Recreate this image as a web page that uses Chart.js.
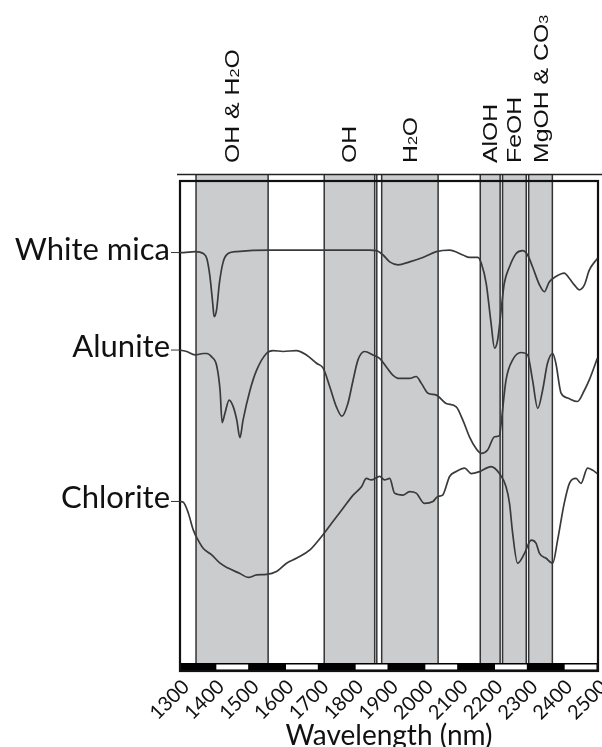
<!DOCTYPE html>
<html>
<head>
<meta charset="utf-8">
<script src="https://cdn.jsdelivr.net/npm/chart.js@4.4.1/dist/chart.umd.min.js"></script>
<style>
  html, body { margin: 0; padding: 0; background: #fff; }
  #wrap { width: 602px; height: 747px; position: relative; }
</style>
</head>
<body>
<div id="wrap"><canvas id="spectra" width="602" height="747"></canvas></div>
<script>
  // ---------- Data ----------
  const tickValues = [1300, 1400, 1500, 1600, 1700, 1800, 1900, 2000, 2100, 2200, 2300, 2400, 2500];
  const tickLabels = ["1300", "1400", "1500", "1600", "1700", "1800", "1900", "2000", "2100", "2200", "2300", "2400", "2500"];

  // absorption feature bands (nm); "_n" = subscript
  const bandNames = ["OH & H_2O", "OH", "H_2O", "AlOH", "FeOH", "MgOH & CO_3"];
  const bandStart = [1346, 1714, 1879, 2162, 2226, 2301];
  const bandEnd   = [1553, 1859, 2041, 2219, 2294, 2369];
  const extraLines = [1865];

  const seriesNames = ["White mica", "Alunite", "Chlorite"];

  const micaWl  = [1300,1310,1343,1367,1377,1386,1394,1398,1405,1413,1424,1438,1463,1558,1701,1844,1864,1883,1902,1926,1959,1997,2036,2074,2112,2131,2155,2165,2179,2193,2203,2212,2222,2231,2246,2265,2284,2298,2312,2332,2346,2360,2379,2403,2418,2432,2446,2461,2475,2498];
  const micaVal = [85.4,85.4,85.6,85.2,84.2,80.5,75.0,72.3,73.7,79.1,83.5,85.2,85.6,85.9,85.9,85.9,85.8,84.9,83.5,82.9,83.5,84.4,85.6,85.9,84.9,84.4,84.4,83.2,79.1,71.0,65.9,67.6,73.7,79.1,82.5,85.2,85.8,84.9,82.5,78.8,77.4,79.4,80.5,81.2,80.1,78.8,77.8,78.8,81.8,84.2];

  const aluniteWl  = [1300,1319,1343,1367,1377,1391,1405,1415,1421,1429,1441,1453,1463,1472,1481,1501,1520,1548,1567,1596,1634,1663,1692,1711,1730,1749,1765,1782,1797,1811,1830,1854,1873,1892,1911,1930,1959,1978,1993,2012,2036,2064,2093,2112,2131,2150,2165,2183,2203,2217,2222,2236,2255,2279,2298,2312,2327,2341,2355,2370,2379,2394,2413,2441,2461,2475,2498];
  const aluniteVal = [65.5,65.2,64.5,64.8,64.8,64.1,62.4,57.3,50.7,52.6,55.3,53.9,51.2,47.6,51.2,57.3,61.4,64.8,65.4,65.2,65.4,64.5,62.8,61.8,58.0,53.9,52.0,54.6,59.4,63.5,65.2,64.5,63.8,62.1,60.4,59.7,59.7,60.1,58.7,56.7,56.3,54.6,53.9,51.2,47.8,45.4,44.4,45.1,47.8,48.0,50.6,59.4,63.5,65.0,64.5,59.4,53.6,57.3,62.8,64.8,62.8,56.7,55.7,55.0,57.3,59.4,63.8];

  const chloriteWl  = [1300,1310,1324,1338,1352,1367,1391,1415,1438,1472,1496,1520,1548,1577,1606,1634,1673,1706,1739,1768,1797,1821,1835,1849,1873,1887,1902,1916,1940,1959,1978,2002,2026,2040,2054,2074,2093,2117,2136,2160,2193,2217,2236,2246,2255,2269,2289,2308,2322,2332,2351,2370,2384,2403,2418,2437,2451,2470,2484,2498];
  const chloriteVal = [34.6,34.4,32.2,28.8,26.7,25.0,23.7,22.0,21.0,19.9,19.1,19.6,19.7,20.3,22.0,23.0,24.7,27.4,30.5,33.2,35.9,37.6,39.3,39.0,39.7,39.0,39.3,36.3,35.9,36.6,36.3,34.2,34.6,35.6,35.9,39.7,40.7,41.4,40.3,40.7,41.7,40.3,37.6,34.2,28.1,22.0,24.0,26.7,26.1,24.0,23.0,22.0,26.7,34.2,38.3,39.3,38.3,41.4,41.0,40.3];

  // ---------- Utils ----------
  const pairs = (xs, ys) => xs.map((x, i) => ({ x: x, y: ys[i] }));

  function drawRotLabel(ctx, str, cx, y0) {
    ctx.save();
    ctx.translate(cx, y0);
    ctx.rotate(-Math.PI / 2);
    ctx.scale(1.24, 1);
    ctx.textAlign = "left";
    ctx.textBaseline = "alphabetic";
    let pos = 0;
    for (const part of str.split(/(_\d)/)) {
      if (!part) continue;
      const sub = part[0] === "_";
      const txt = sub ? part.slice(1) : part;
      ctx.font = sub ? '13px "Liberation Sans"' : '20px "Liberation Sans"';
      ctx.fillText(txt, pos, 7);
      pos += ctx.measureText(txt).width;
    }
    ctx.restore();
  }

  // ---------- Decorations ----------
  const spectraDecor = {
    id: "spectraDecor",
    beforeDatasetsDraw(chart) {
      const { ctx, chartArea: a, scales: { x } } = chart;
      const top = a.top - 6.5;
      const barTop = a.bottom - 8;
      ctx.save();

      // grey bands
      ctx.fillStyle = "#cbcccd";
      for (let i = 0; i < bandStart.length; i++) {
        const x0 = x.getPixelForValue(bandStart[i]);
        const x1 = x.getPixelForValue(bandEnd[i]);
        ctx.fillRect(x0, top, x1 - x0, barTop - top);
      }
      ctx.strokeStyle = "#333";
      ctx.lineWidth = 1.5;
      const vx = [];
      bandStart.forEach((v, i) => { vx.push(v, bandEnd[i]); });
      extraLines.forEach(v => vx.push(v));
      for (const v of vx) {
        const px = x.getPixelForValue(v);
        ctx.beginPath();
        ctx.moveTo(px, top);
        ctx.lineTo(px, barTop);
        ctx.stroke();
      }

      // outer top line
      ctx.strokeStyle = "#222";
      ctx.lineWidth = 1.6;
      ctx.beginPath();
      ctx.moveTo(a.left - 3, top);
      ctx.lineTo(chart.width, top);
      ctx.stroke();

      // wavelength scale bar
      ctx.fillStyle = "#000";
      ctx.fillRect(a.left, barTop, a.right - a.left, a.bottom - barTop);
      ctx.fillStyle = "#fff";
      for (let i = 1; i < tickValues.length - 1; i += 2) {
        const x0 = x.getPixelForValue(tickValues[i]);
        const x1 = x.getPixelForValue(tickValues[i + 1]);
        ctx.fillRect(x0 + 1.5, barTop + 1.5, x1 - x0 - 3, a.bottom - barTop - 3);
      }

      // frame
      ctx.strokeStyle = "#111";
      ctx.lineWidth = 2.2;
      ctx.strokeRect(a.left, a.top, a.right - a.left, a.bottom - a.top);
      ctx.restore();
    },
    afterDraw(chart) {
      const { ctx, chartArea: a, scales: { x, y } } = chart;
      ctx.save();
      ctx.fillStyle = "#111";

      // band names
      for (let i = 0; i < bandNames.length; i++) {
        const cx = (x.getPixelForValue(bandStart[i]) + x.getPixelForValue(bandEnd[i])) / 2;
        drawRotLabel(ctx, bandNames[i], cx, a.top - 18);
      }

      // series names with leader ticks
      const firsts = [micaVal[0], aluniteVal[0], chloriteVal[0]];
      ctx.font = '31px "Lato"';
      ctx.textAlign = "right";
      ctx.textBaseline = "middle";
      ctx.strokeStyle = "#333";
      ctx.lineWidth = 1;
      firsts.forEach((v, i) => {
        const py = y.getPixelForValue(v);
        ctx.fillText(seriesNames[i], a.left - 10, py - 3);
        ctx.beginPath();
        ctx.moveTo(a.left - 9, py);
        ctx.lineTo(a.left, py);
        ctx.stroke();
      });

      // axis title
      ctx.font = '28px "Lato"';
      ctx.textAlign = "center";
      ctx.textBaseline = "alphabetic";
      ctx.fillText("Wavelength (nm)", (a.left + a.right) / 2, 745);
      ctx.restore();
    }
  };

  // ---------- Chart ----------
  const lineStyle = {
    borderColor: "#3a3a3a",
    borderWidth: 1.7,
    pointRadius: 0,
    fill: false,
    cubicInterpolationMode: "monotone"
  };

  new Chart(document.getElementById("spectra").getContext("2d"), {
    type: "line",
    data: {
      datasets: [
        Object.assign({ label: seriesNames[0], data: pairs(micaWl, micaVal) }, lineStyle),
        Object.assign({ label: seriesNames[1], data: pairs(aluniteWl, aluniteVal) }, lineStyle),
        Object.assign({ label: seriesNames[2], data: pairs(chloriteWl, chloriteVal) }, lineStyle)
      ]
    },
    options: {
      responsive: false,
      animation: false,
      devicePixelRatio: 1,
      layout: { padding: { left: 180, right: 4, top: 181, bottom: 0 } },
      plugins: { legend: { display: false }, tooltip: { enabled: false } },
      scales: {
        x: {
          type: "linear",
          min: 1300,
          max: 2500,
          afterBuildTicks(scale) { scale.ticks = tickValues.map(v => ({ value: v })); },
          afterFit(scale) {
            scale.height = 76;
            scale.paddingLeft = 0;
            scale.paddingRight = 0;
          },
          grid: { display: false, drawTicks: false },
          border: { display: false },
          ticks: {
            callback: (v, i) => tickLabels[i],
            autoSkip: false,
            minRotation: 45,
            maxRotation: 45,
            padding: 4,
            labelOffset: 6,
            color: "#111",
            font: { family: "Lato", size: 20 }
          }
        },
        y: { type: "linear", min: 0, max: 100, display: false }
      }
    },
    plugins: [spectraDecor]
  });
</script>
</body>
</html>
